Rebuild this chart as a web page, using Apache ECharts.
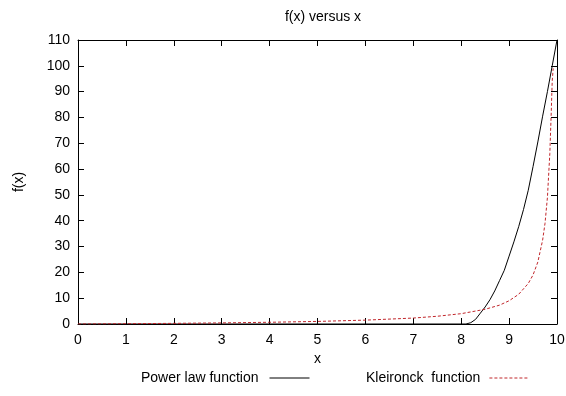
<!DOCTYPE html>
<html>
<head>
<meta charset="utf-8">
<script src="https://cdn.jsdelivr.net/npm/echarts@6/dist/echarts.min.js"></script>
<style>
  html, body { margin: 0; padding: 0; background: #fff; }
  #chart { width: 566px; height: 396px; }
</style>
</head>
<body>
<div id="chart"></div>
<script>
// values
var powerX = [0, 1, 2, 3, 4, 5, 6, 7, 8, 8.1, 8.2, 8.3, 8.4, 8.5, 8.6, 8.7, 8.8, 8.9, 9.0, 9.1, 9.2, 9.3, 9.4, 9.5, 9.6, 9.7, 9.8, 9.9, 10];
var powerY = [0, 0, 0, 0, 0, 0, 0, 0, 0, 0, 0.5, 1.8, 4.2, 6.6, 9.4, 12.8, 16.8, 20.8, 26.3, 31.8, 37.7, 44.3, 51.8, 61, 70.5, 80.5, 90, 100, 110];

var kleinX = [0, 1, 2, 3, 4, 5, 6, 7, 7.5, 8, 8.5, 8.8, 9, 9.2, 9.4, 9.5, 9.6, 9.7, 9.75, 9.8, 9.85, 9.88, 9.9, 9.92];
var kleinY = [0, 0.11, 0.25, 0.43, 0.67, 1, 1.5, 2.3, 3, 4, 5.7, 7.3, 9, 11.5, 15.7, 19, 24, 32.5, 39, 49, 66, 82, 94, 99];

var xTicks = { min: 0, max: 10, interval: 1 };
var yTicks = { min: 0, max: 110, interval: 10 };

function pairs(xs, ys) {
  var out = [];
  for (var i = 0; i < xs.length; i++) out.push([xs[i], ys[i]]);
  return out;
}

var font = 'Liberation Sans, Arial, sans-serif';
function axisLine() { return { show: true, onZero: false, lineStyle: { color: '#000', width: 1 } }; }
function tick() { return { show: true, inside: true, length: 6, lineStyle: { color: '#000', width: 1 } }; }
// mirror axes: see-through labels, only line and ticks should show
function ghostLabel() { return { show: true, color: 'rgba(0,0,0,0)', fontSize: 14 }; }

var chart = echarts.init(document.getElementById('chart'));
chart.setOption({
  animation: false,
  title: {
    text: 'f(x) versus x',
    left: 318, top: 5, textAlign: 'center',
    textStyle: { fontFamily: font, fontSize: 14, fontWeight: 'normal', color: '#000' }
  },
  grid: { left: 78, right: 9, top: 40, bottom: 72, outerBoundsMode: 'none' },
  legend: [{
    left: 141, top: 371, align: 'right', padding: 0,
    itemWidth: 40, itemHeight: 10,
    itemStyle: { opacity: 0 },
    lineStyle: { width: 1 },
    data: ['Power law function'],
    textStyle: { fontFamily: font, fontSize: 14, color: '#000', padding: [0, 6, 0, 0] }
  }, {
    left: 366, top: 371, align: 'right', padding: 0,
    itemWidth: 40, itemHeight: 10,
    itemStyle: { opacity: 0 },
    lineStyle: { width: 1 },
    data: ['Kleironck  function'],
    textStyle: { fontFamily: font, fontSize: 14, color: '#000', padding: [0, 4, 0, 0] }
  }],
  xAxis: [{
    type: 'value', position: 'bottom',
    min: xTicks.min, max: xTicks.max, interval: xTicks.interval,
    name: 'x', nameLocation: 'middle', nameGap: 27,
    nameTextStyle: { fontFamily: font, fontSize: 14, color: '#000' },
    axisLine: axisLine(), axisTick: tick(), splitLine: { show: false },
    axisLabel: { fontFamily: font, fontSize: 14, color: '#000', margin: 9 }
  }, {
    type: 'value', position: 'top',
    min: xTicks.min, max: xTicks.max, interval: xTicks.interval,
    axisLine: axisLine(), axisTick: tick(), splitLine: { show: false },
    axisLabel: ghostLabel()
  }],
  yAxis: [{
    type: 'value', position: 'left',
    min: yTicks.min, max: yTicks.max, interval: yTicks.interval,
    name: 'f(x)', nameLocation: 'middle', nameGap: 52, nameRotate: 90,
    nameTextStyle: { fontFamily: font, fontSize: 14, color: '#000' },
    axisLine: axisLine(), axisTick: tick(), splitLine: { show: false },
    axisLabel: { fontFamily: font, fontSize: 14, color: '#000', margin: 8 }
  }, {
    type: 'value', position: 'right',
    min: yTicks.min, max: yTicks.max, interval: yTicks.interval,
    axisLine: axisLine(), axisTick: tick(), splitLine: { show: false },
    axisLabel: ghostLabel()
  }],
  series: [{
    name: 'Power law function',
    type: 'line',
    symbol: 'none',
    lineStyle: { color: '#000', width: 1 },
    itemStyle: { color: '#000' },
    data: pairs(powerX, powerY)
  }, {
    name: 'Kleironck  function',
    type: 'line',
    symbol: 'none',
    lineStyle: { color: '#c0262b', width: 1, type: [3, 2] },
    itemStyle: { color: '#c0262b' },
    data: pairs(kleinX, kleinY)
  }]
});
</script>
</body>
</html>
